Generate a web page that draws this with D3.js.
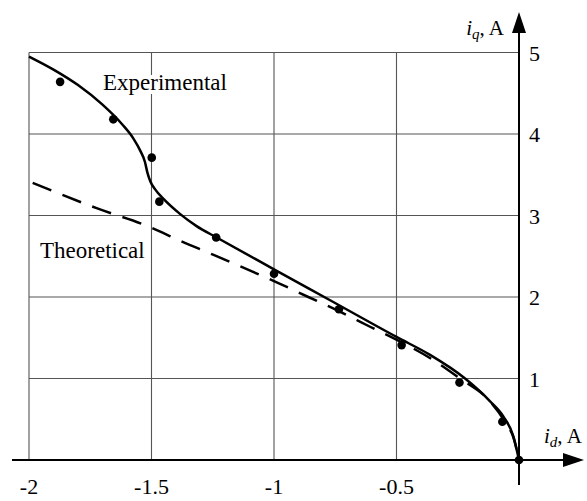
<!DOCTYPE html>
<html><head><meta charset="utf-8"><script src="https://cdn.jsdelivr.net/npm/d3@7"></script></head>
<body style="margin:0">
<svg id="chart" width="587" height="501"></svg>
<script>
// ---- data ----
const xTicks = [-2, -1.5, -1, -0.5];
const xTickLabels = ["-2", "-1.5", "-1", "-0.5"];
const yTicks = [1, 2, 3, 4, 5];
const yTickLabels = ["1", "2", "3", "4", "5"];

const expCurveX = [-2, -1.9, -1.8, -1.7, -1.62, -1.575, -1.545, -1.527, -1.517, -1.505, -1.485, -1.45, -1.384, -1.316, -1.234, -1.0, -0.771, -0.5, -0.363, -0.22, -0.118, -0.064, -0.023, 0];
const expCurveY = [4.95, 4.79, 4.6, 4.36, 4.12, 3.95, 3.79, 3.66, 3.53, 3.42, 3.32, 3.2, 3.02, 2.87, 2.73, 2.34, 1.96, 1.51, 1.29, 1.0, 0.72, 0.535, 0.29, 0];

const theoX = [-1.985, -1.724, -1.5, -1.384, -1.249, -1.118, -0.989, -0.86, -0.731, -0.608, -0.486, -0.357, -0.241, -0.125, -0.06, -0.02, 0];
const theoY = [3.40, 3.09, 2.85, 2.69, 2.52, 2.35, 2.18, 2.0, 1.82, 1.635, 1.455, 1.24, 1.0, 0.74, 0.48, 0.25, 0];

const dotX = [-1.873, -1.656, -1.499, -1.468, -1.236, -1.0, -0.735, -0.479, -0.243, -0.068, 0];
const dotY = [4.64, 4.18, 3.71, 3.17, 2.73, 2.285, 1.85, 1.41, 0.95, 0.47, 0];

// ---- scales ----
const svg = d3.select("#chart");
const x = d3.scaleLinear().domain([-2, 0]).range([29, 519]);
const y = d3.scaleLinear().domain([0, 5]).range([460, 52.5]);

// ---- grid ----
const grid = svg.append("g").attr("stroke", "#555").attr("stroke-width", 1.1);
xTicks.forEach(v => {
  grid.append("line").attr("x1", x(v)).attr("x2", x(v)).attr("y1", y(0)).attr("y2", y(5));
});
yTicks.forEach(v => {
  grid.append("line").attr("x1", x(-2)).attr("x2", x(0)).attr("y1", y(v)).attr("y2", y(v));
});

// ---- curve labels (white halo hides grid behind them) ----
svg.append("text").attr("x", 103).attr("y", 90).attr("font-family", "Liberation Serif")
  .attr("font-size", 23).attr("fill", "#000").attr("stroke", "#fff").attr("stroke-width", 8)
  .attr("paint-order", "stroke").attr("stroke-linejoin", "round").text("Experimental");
svg.append("text").attr("x", 40).attr("y", 258).attr("font-family", "Liberation Serif")
  .attr("font-size", 23).attr("fill", "#000").text("Theoretical");

// ---- curves ----
const line = d3.line().x(d => x(d[0])).y(d => y(d[1])).curve(d3.curveMonotoneX);
svg.append("path")
  .datum(theoX.map((v, i) => [v, theoY[i]]))
  .attr("d", line).attr("fill", "none").attr("stroke", "#000")
  .attr("stroke-width", 2.5).attr("stroke-dasharray", "20,12");
svg.append("path")
  .datum(expCurveX.map((v, i) => [v, expCurveY[i]]))
  .attr("d", line).attr("fill", "none").attr("stroke", "#000")
  .attr("stroke-width", 2.5);

svg.append("g").selectAll("circle")
  .data(dotX.map((v, i) => [v, dotY[i]]))
  .join("circle")
  .attr("cx", d => x(d[0])).attr("cy", d => y(d[1])).attr("r", 4.3).attr("fill", "#000");

// ---- axes ----
const ax = svg.append("g").attr("stroke", "#000").attr("stroke-width", 2);
ax.append("line").attr("x1", 12).attr("x2", 566).attr("y1", y(0)).attr("y2", y(0));
ax.append("line").attr("x1", x(0)).attr("x2", x(0)).attr("y1", 485).attr("y2", 30);
svg.append("path").attr("d", `M584,${y(0)} L563,${y(0) - 7} L563,${y(0) + 7} Z`).attr("fill", "#000");
svg.append("path").attr("d", `M${x(0)},12 L${x(0) - 7},33 L${x(0) + 7},33 Z`).attr("fill", "#000");

// tick labels
xTicks.forEach((d, i) => {
  svg.append("text").attr("x", x(d)).attr("y", 494).attr("text-anchor", "middle")
    .attr("font-family", "Liberation Serif").attr("font-size", 22).text(xTickLabels[i]);
});
yTicks.forEach((d, i) => {
  svg.append("text").attr("x", 529).attr("y", y(d) + 8).attr("text-anchor", "start")
    .attr("font-family", "Liberation Serif").attr("font-size", 22).text(yTickLabels[i]);
});

// axis titles
const tq = svg.append("text").attr("x", 504).attr("y", 35).attr("text-anchor", "end")
  .attr("font-family", "Liberation Serif").attr("font-size", 21);
tq.append("tspan").attr("font-style", "italic").text("i");
tq.append("tspan").attr("font-style", "italic").attr("font-size", 15).attr("dy", 4).text("q");
tq.append("tspan").attr("dy", -4).text(", A");

const td = svg.append("text").attr("x", 544).attr("y", 443).attr("text-anchor", "start")
  .attr("font-family", "Liberation Serif").attr("font-size", 21);
td.append("tspan").attr("font-style", "italic").text("i");
td.append("tspan").attr("font-style", "italic").attr("font-size", 15).attr("dy", 4).text("d");
td.append("tspan").attr("dy", -4).text(", A");
</script>
</body>
</html>
